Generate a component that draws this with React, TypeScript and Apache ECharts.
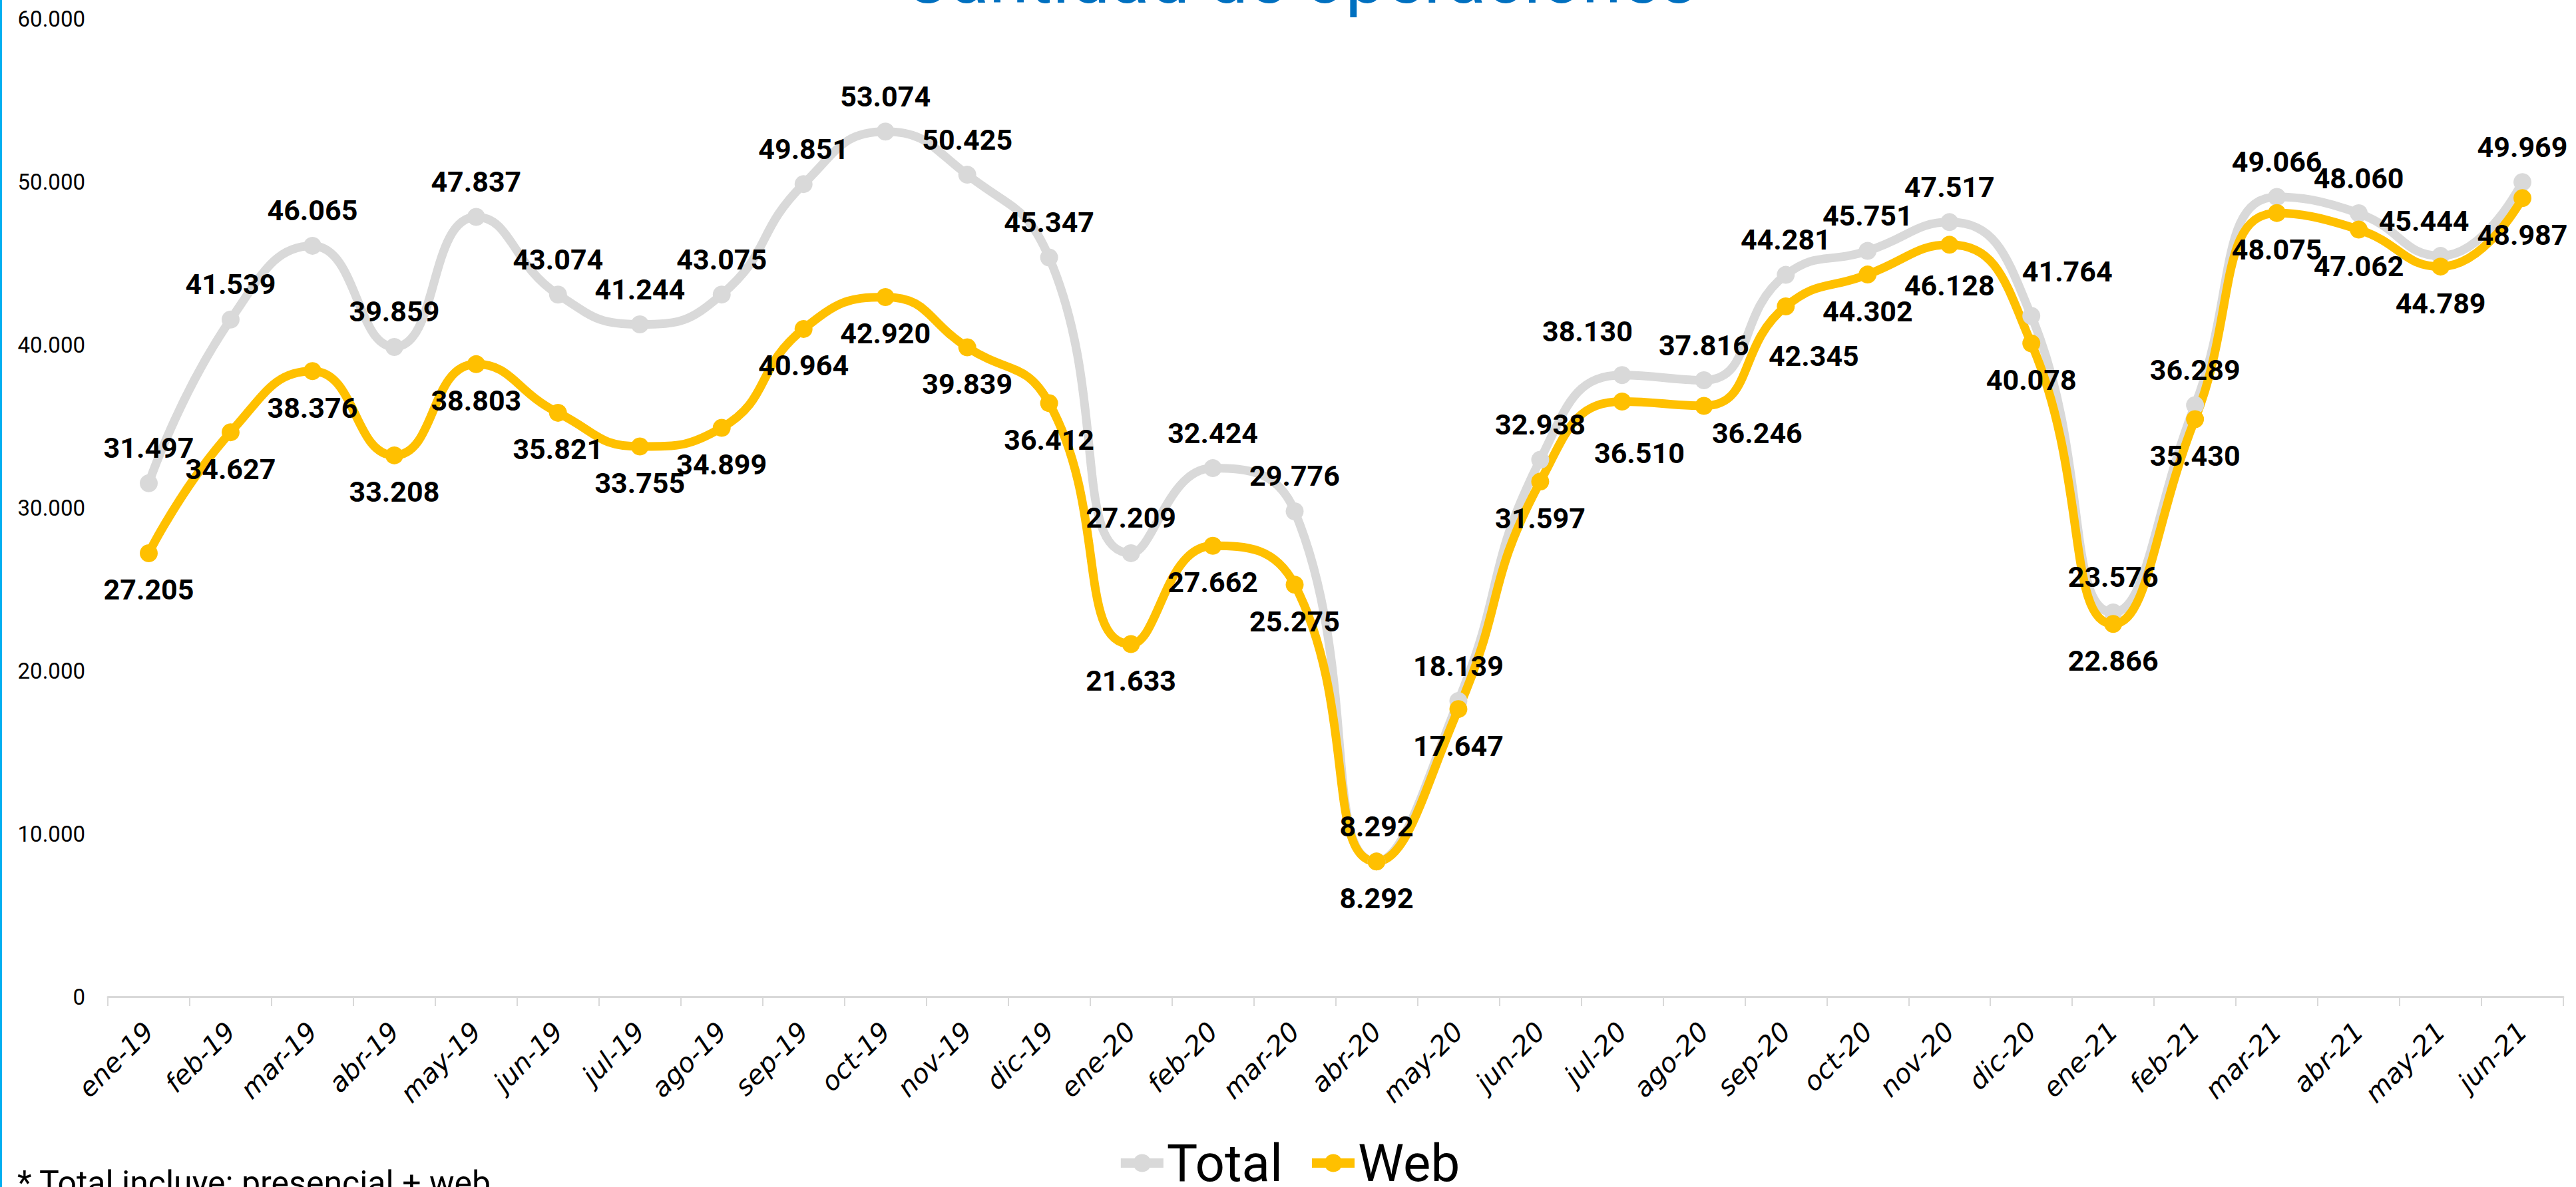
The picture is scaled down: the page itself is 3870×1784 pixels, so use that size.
import React, { useEffect, useRef } from "react";
import * as echarts from "echarts";

const categories = [
  "ene-19", "feb-19", "mar-19", "abr-19", "may-19", "jun-19", "jul-19", "ago-19", "sep-19", "oct-19",
  "nov-19", "dic-19", "ene-20", "feb-20", "mar-20", "abr-20", "may-20", "jun-20", "jul-20", "ago-20",
  "sep-20", "oct-20", "nov-20", "dic-20", "ene-21", "feb-21", "mar-21", "abr-21", "may-21", "jun-21",
];

const totalValues = [
  31497, 41539, 46065, 39859, 47837, 43074, 41244, 43075, 49851, 53074,
  50425, 45347, 27209, 32424, 29776, 8292, 18139, 32938, 38130, 37816,
  44281, 45751, 47517, 41764, 23576, 36289, 49066, 48060, 45444, 49969,
];

const webValues = [
  27205, 34627, 38376, 33208, 38803, 35821, 33755, 34899, 40964, 42920,
  39839, 36412, 21633, 27662, 25275, 8292, 17647, 31597, 36510, 36246,
  42345, 44302, 46128, 40078, 22866, 35430, 48075, 47062, 44789, 48987,
];

const seriesNames = ["Total", "Web"];
const titleText = "Cantidad de operaciones";
const footnoteText = "* Total incluye: presencial + web";

// label nudges (manual label placement in the original), in px
const totalLabelNudge: Record<number, [number, number]> = { 18: [-52, -13], 23: [54, -14], 28: [-25, 0] };
const webLabelNudge: Record<number, [number, number]> = { 18: [26, 22], 19: [80, -14], 20: [42, 19], 22: [0, 6] };

const fmt = (v: number) => String(v).replace(/\B(?=(\d{3})+(?!\d))/g, ".");

const W = 3870;
const H = 1784;

export default function App() {
  const ref = useRef<HTMLDivElement>(null);
  useEffect(() => {
    document.body.style.margin = "0";
    if (!ref.current) return;
    const chart = echarts.init(ref.current, null, { renderer: "svg", width: W, height: H });
    const buildData = (vals: number[], nudge: Record<number, [number, number]>) =>
      vals.map((v, i) => (nudge[i] ? { value: v, label: { offset: nudge[i] } } : v));
    const labelBase = {
      show: true,
      fontFamily: "Roboto",
      fontWeight: "bold",
      fontSize: 43,
      color: "#000",
      formatter: (p: any) => fmt(p.value),
    };
    chart.setOption({
      animation: false,
      backgroundColor: "#fff",
      grid: { left: 162, right: 19, top: 28, bottom: 286, containLabel: false },
      graphic: [
        { type: "rect", shape: { x: 0, y: 0, width: 3, height: H }, style: { fill: "#00B0F0" }, z: 100 },
        {
          type: "text",
          x: 1953,
          y: -33,
          style: {
            text: titleText,
            fill: "#0070C0",
            font: "108px Roboto",
            textAlign: "center",
            textVerticalAlign: "middle",
            align: "center",
            verticalAlign: "middle",
          },
        },
        {
          type: "text",
          x: 26,
          y: 1778,
          style: {
            text: footnoteText,
            fill: "#000",
            font: "50px Roboto",
            textAlign: "left",
            textVerticalAlign: "middle",
            align: "left",
            verticalAlign: "middle",
          },
        },
      ],
      legend: {
        data: seriesNames,
        top: 1704,
        left: "center",
        itemWidth: 64,
        itemHeight: 34,
        itemGap: 37,
        lineStyle: { width: 14 },
        textStyle: { fontFamily: "Roboto", fontSize: 78, color: "#000" },
      },
      xAxis: {
        type: "category",
        data: categories,
        boundaryGap: true,
        axisLine: { show: true, lineStyle: { color: "#D9D9D9", width: 3 } },
        axisTick: { show: true, length: 14, lineStyle: { color: "#D9D9D9", width: 2 } },
        axisLabel: {
          interval: 0,
          rotate: 45,
          margin: 45,
          fontFamily: "DejaVu Sans",
          fontStyle: "italic",
          fontSize: 40,
          color: "#000",
        },
        splitLine: { show: false },
      },
      yAxis: {
        type: "value",
        min: 0,
        max: 60000,
        interval: 10000,
        axisLine: { show: false },
        axisTick: { show: false },
        splitLine: { show: false },
        axisLabel: {
          formatter: (v: number) => fmt(v),
          fontFamily: "Roboto",
          fontSize: 33,
          color: "#000",
          margin: 34,
        },
      },
      series: [
        {
          name: seriesNames[0],
          type: "line",
          smooth: true,
          symbol: "circle",
          symbolSize: 27,
          data: buildData(totalValues, totalLabelNudge),
          lineStyle: { color: "#D9D9D9", width: 13 },
          itemStyle: { color: "#D9D9D9" },
          label: { ...labelBase, position: "top", distance: 18 },
        },
        {
          name: seriesNames[1],
          type: "line",
          smooth: true,
          symbol: "circle",
          symbolSize: 27,
          data: buildData(webValues, webLabelNudge),
          lineStyle: { color: "#FFC000", width: 13 },
          itemStyle: { color: "#FFC000" },
          label: { ...labelBase, position: "bottom", distance: 20 },
        },
      ],
    });
    return () => chart.dispose();
  }, []);
  return <div ref={ref} style={{ width: W, height: H }} />;
}
